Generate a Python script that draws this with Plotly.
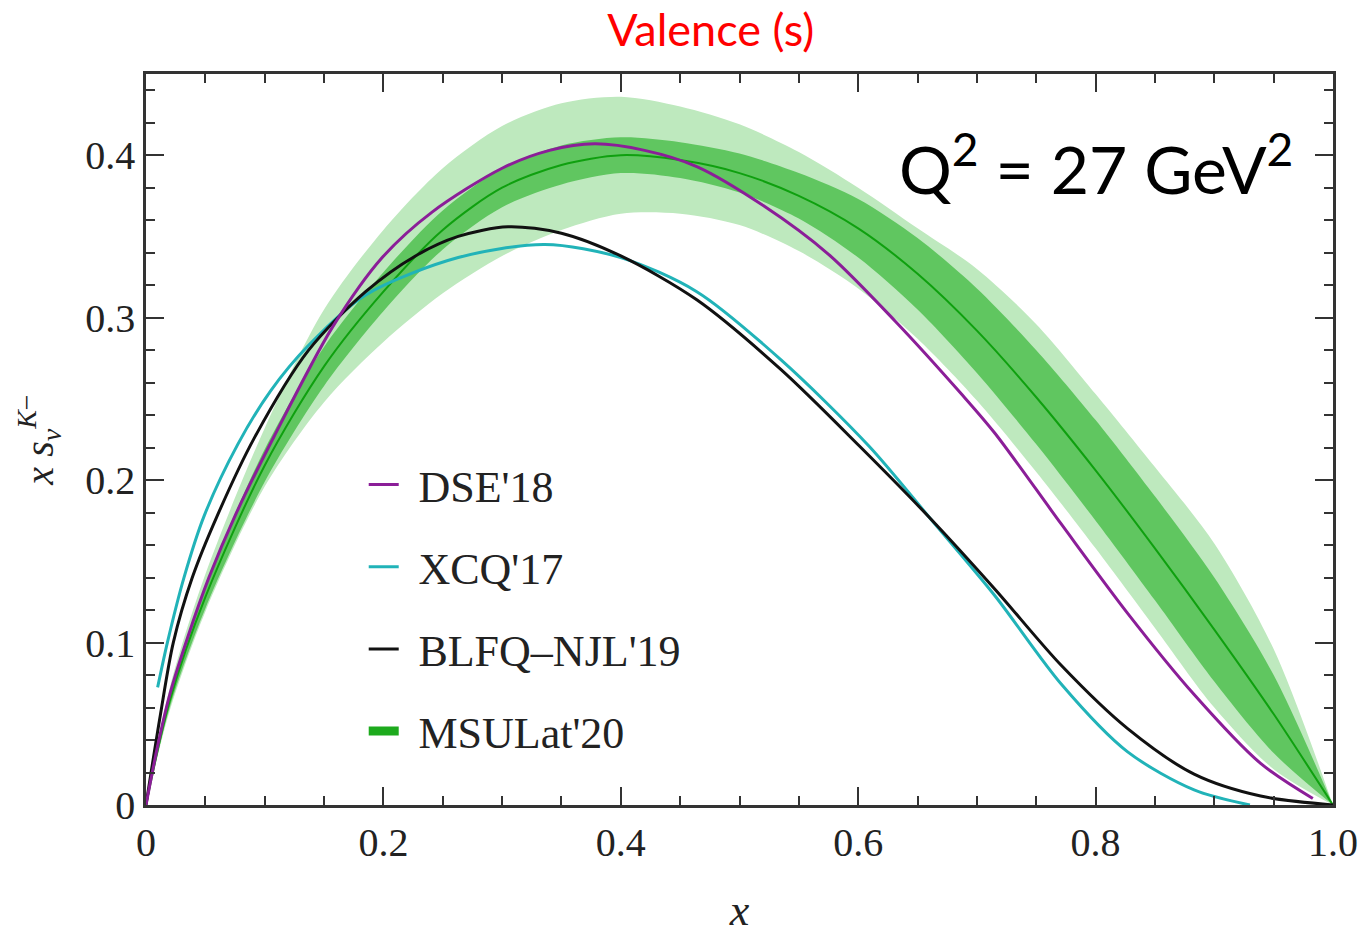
import plotly.graph_objects as go

# ---- data ----
x_band = [0, 0.02, 0.05, 0.1, 0.15, 0.2, 0.25, 0.3, 0.35, 0.4, 0.45, 0.5, 0.55,
          0.6, 0.65, 0.7, 0.75, 0.8, 0.85, 0.9, 0.95, 1.0]
light_lo = [0, 0.058, 0.119, 0.196, 0.248, 0.285, 0.315, 0.338, 0.354, 0.364, 0.364,
            0.357, 0.341, 0.318, 0.287, 0.249, 0.205, 0.158, 0.109, 0.06, 0.022, 0]
light_hi = [0, 0.072, 0.142, 0.232, 0.305, 0.354, 0.392, 0.418, 0.432, 0.436, 0.43,
            0.419, 0.402, 0.38, 0.355, 0.33, 0.296, 0.253, 0.208, 0.161, 0.096, 0]
dark_lo = [0, 0.060, 0.121, 0.199, 0.258, 0.304, 0.342, 0.368, 0.382, 0.389, 0.386,
           0.377, 0.361, 0.337, 0.305, 0.266, 0.222, 0.175, 0.126, 0.076, 0.032, 0]
dark_hi = [0, 0.068, 0.135, 0.219, 0.282, 0.328, 0.366, 0.392, 0.406, 0.411, 0.408,
           0.401, 0.389, 0.373, 0.349, 0.318, 0.28, 0.237, 0.19, 0.14, 0.08, 0]
msulat = [0, 0.064, 0.128, 0.209, 0.27, 0.316, 0.354, 0.38, 0.394, 0.4, 0.397,
          0.389, 0.375, 0.355, 0.327, 0.292, 0.251, 0.206, 0.158, 0.108, 0.056, 0]

x_dse = [0, 0.01, 0.02, 0.035, 0.053, 0.075, 0.108, 0.157, 0.199, 0.241, 0.3, 0.34,
         0.378, 0.42, 0.464, 0.52, 0.575, 0.631, 0.687, 0.715, 0.771, 0.827, 0.883,
         0.939, 0.983]
dse = [0, 0.037, 0.068, 0.103, 0.14, 0.178, 0.227, 0.294, 0.337, 0.365, 0.392, 0.403,
       0.407, 0.403, 0.393, 0.369, 0.339, 0.298, 0.253, 0.229, 0.173, 0.118, 0.068,
       0.0256, 0.004]

x_xcq = [0.0098, 0.018, 0.032, 0.049, 0.0773, 0.105, 0.137, 0.185, 0.263, 0.336, 0.4,
         0.464, 0.535, 0.609, 0.66, 0.715, 0.771, 0.827, 0.883, 0.930]
xcq = [0.0724, 0.1, 0.14, 0.178, 0.222, 0.255, 0.283, 0.314, 0.337, 0.345, 0.337,
       0.316, 0.274, 0.221, 0.177, 0.129, 0.0745, 0.0327, 0.0093, 0]

x_blfq = [0, 0.012, 0.023, 0.039, 0.06, 0.0913, 0.137, 0.185, 0.227, 0.263, 0.305,
          0.35, 0.4, 0.464, 0.535, 0.601, 0.66, 0.715, 0.771, 0.827, 0.883, 0.939, 1.0]
blfq = [0, 0.055, 0.1, 0.14, 0.178, 0.226, 0.28, 0.316, 0.338, 0.35, 0.356, 0.352,
        0.338, 0.311, 0.268, 0.221, 0.177, 0.133, 0.086, 0.047, 0.019, 0.0055, 0]

x_ticks = [0, 0.2, 0.4, 0.6, 0.8, 1.0]
x_ticktext = ["0", "0.2", "0.4", "0.6", "0.8", "1.0"]
y_ticks = [0, 0.1, 0.2, 0.3, 0.4]
y_ticktext = ["0", "0.1", "0.2", "0.3", "0.4"]

# ---- styles ----
C_LIGHT = "rgba(190,233,190,1)"
C_DARK = "rgba(96,198,96,1)"
C_CENTER = "#0fa00f"
C_DSE = "#8b1e98"
C_XCQ = "#21b3b8"
C_BLFQ = "#111111"
SERIF = "Liberation Serif"
PAD = "\u00a0\u200a"
SM = 0.85

fig = go.Figure()
fig.add_trace(go.Scatter(x=x_band, y=light_lo, mode="lines", line=dict(width=0, shape="spline", smoothing=SM),
                         showlegend=False, hoverinfo="skip"))
fig.add_trace(go.Scatter(x=x_band, y=light_hi, mode="lines", line=dict(width=0, shape="spline", smoothing=SM),
                         fill="tonexty", fillcolor=C_LIGHT, showlegend=False, hoverinfo="skip"))
fig.add_trace(go.Scatter(x=x_band, y=dark_lo, mode="lines", line=dict(width=0, shape="spline", smoothing=SM),
                         showlegend=False, hoverinfo="skip"))
fig.add_trace(go.Scatter(x=x_band, y=dark_hi, mode="lines", line=dict(width=0, shape="spline", smoothing=SM),
                         fill="tonexty", fillcolor=C_DARK, showlegend=False, hoverinfo="skip"))
fig.add_trace(go.Scatter(x=x_band, y=msulat, mode="lines",
                         line=dict(width=2, color=C_CENTER, shape="spline", smoothing=SM),
                         showlegend=False))

fig.add_trace(go.Scatter(x=x_xcq, y=xcq, mode="lines", name=PAD + "XCQ'17", legendrank=2, legendgroup="b",
                         line=dict(width=3, color=C_XCQ, shape="spline", smoothing=SM)))
fig.add_trace(go.Scatter(x=x_blfq, y=blfq, mode="lines", name=PAD + "BLFQ\u2013NJL'19", legendrank=3,
                         legendgroup="c", line=dict(width=3, color=C_BLFQ, shape="spline", smoothing=SM)))
fig.add_trace(go.Scatter(x=x_dse, y=dse, mode="lines", name=PAD + "DSE'18", legendrank=1, legendgroup="a",
                         line=dict(width=3, color=C_DSE, shape="spline", smoothing=SM)))
fig.add_trace(go.Scatter(x=[None], y=[None], mode="lines", name=PAD + "MSULat'20", legendrank=4,
                         legendgroup="d", line=dict(width=9, color="#1daa1d")))

axis_common = dict(
    showline=True, linecolor="#333333", linewidth=2.5, mirror="ticks",
    ticks="inside", ticklen=18, tickwidth=2, tickcolor="#333333",
    showgrid=False, zeroline=False,
    tickfont=dict(family=SERIF, size=40, color="#222222"),
)

fig.update_layout(
    width=1370, height=939,
    margin=dict(l=146, r=30, t=74, b=127),
    paper_bgcolor="white", plot_bgcolor="white",
    title=dict(text="Valence (s)", x=(714 - 146) / 1194, xref="paper", xanchor="center",
               y=1 - 30 / 939, yref="container", yanchor="middle",
               font=dict(family="Lato", size=45, color="#ff0000")),
    xaxis=dict(range=[0, 1], tickvals=x_ticks, ticktext=x_ticktext,
               minor=dict(dtick=0.05, tick0=0, ticks="inside", ticklen=9, tickwidth=2, tickcolor="#333333"),
               title=dict(text="<i>x</i>", font=dict(family=SERIF, size=44, color="#222222"), standoff=31),
               **axis_common),
    yaxis=dict(range=[0, 0.45], tickvals=y_ticks, ticktext=y_ticktext,
               minor=dict(dtick=0.02, tick0=0, ticks="inside", ticklen=9, tickwidth=2, tickcolor="#333333"),
               title=dict(text="<i>x s</i><sub><i>v</i></sub><sup><i>K</i>\u2212</sup>",
                          font=dict(family=SERIF, size=40, color="#222222"), standoff=20),
               **axis_common),
    legend=dict(x=(365 - 146) / 1194, xanchor="left", y=(812 - 453) / 738, yanchor="top",
                bgcolor="rgba(0,0,0,0)", font=dict(family=SERIF, size=44, color="#222222"),
                tracegroupgap=22, itemwidth=30),
    annotations=[dict(text="Q<sup>2</sup> = 27 GeV<sup>2</sup>", xref="paper", yref="paper",
                      x=(1102 - 146) / 1194, y=(812 - 165) / 738, xanchor="center", yanchor="middle",
                      showarrow=False, font=dict(family="Lato", size=66, color="#000000"))],
)

fig.write_html("out.html")
